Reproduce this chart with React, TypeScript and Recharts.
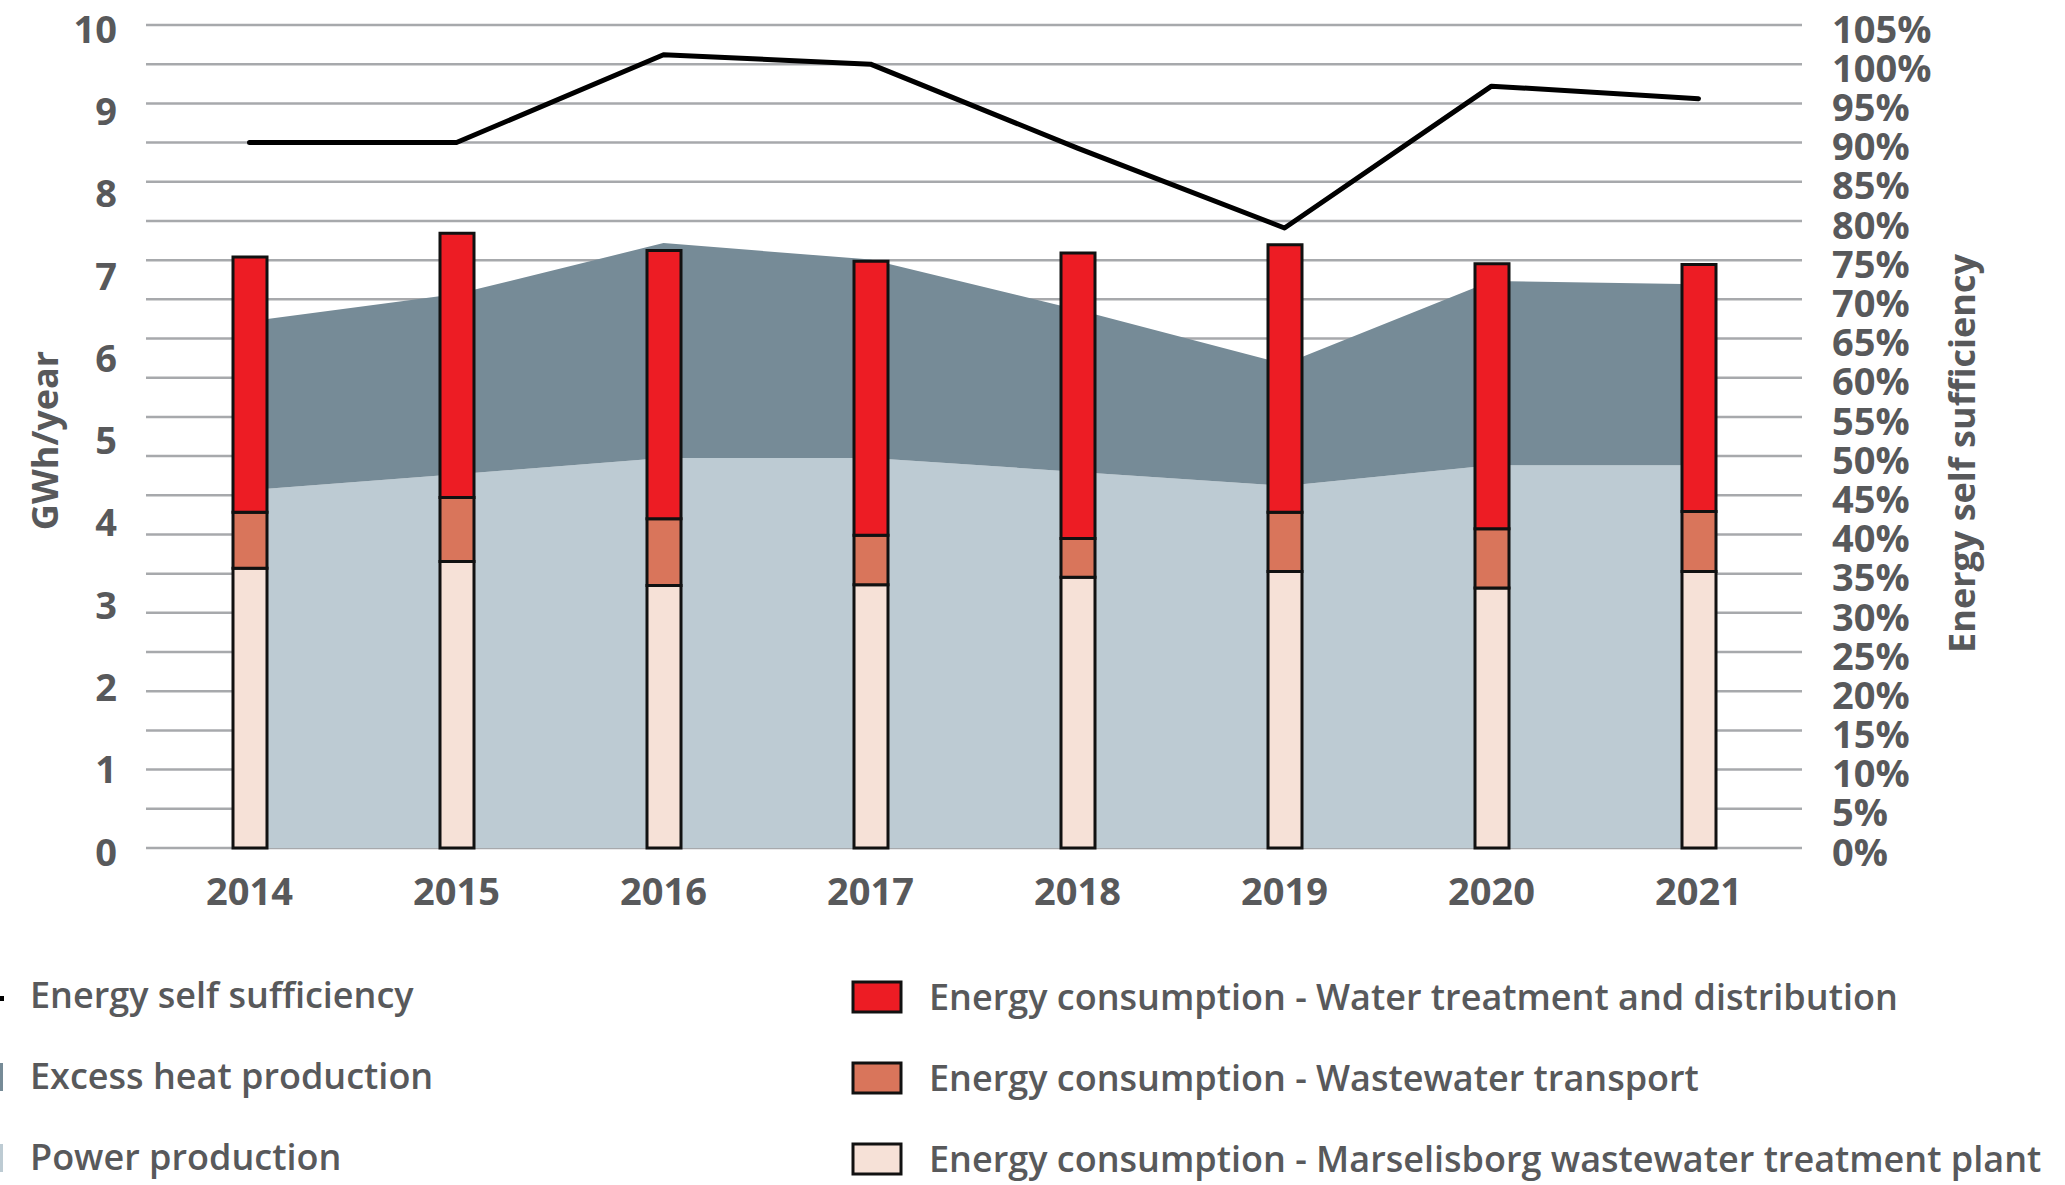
import { ComposedChart, Bar, Area, Line, XAxis, YAxis, CartesianGrid, Legend } from 'recharts'

const years = ['2014', '2015', '2016', '2017', '2018', '2019', '2020', '2021']
// GWh/year, left axis
const marselisborg = [3.4, 3.48, 3.19, 3.2, 3.29, 3.36, 3.16, 3.36]
const wastewaterTransport = [0.68, 0.78, 0.81, 0.6, 0.47, 0.72, 0.72, 0.73]
const waterTreatment = [3.1, 3.21, 3.26, 3.33, 3.47, 3.25, 3.22, 3.0]
const powerProduction = [4.35, 4.54, 4.74, 4.74, 4.57, 4.4, 4.65, 4.65]
const excessHeat = [2.05, 2.19, 2.61, 2.41, 1.97, 1.48, 2.24, 2.2]
// % , right axis
const selfSufficiency = [90, 90, 101.2, 100, 89.3, 79.1, 97.2, 95.6]

const leftTicks = [0, 1, 2, 3, 4, 5, 6, 7, 8, 9, 10]
const rightTicks = [0, 5, 10, 15, 20, 25, 30, 35, 40, 45, 50, 55, 60, 65, 70, 75, 80, 85, 90, 95, 100, 105]

const data = years.map((year, i) => ({
  year,
  marselisborg: marselisborg[i],
  transport: wastewaterTransport[i],
  water: waterTreatment[i],
  power: powerProduction[i],
  heat: excessHeat[i],
  self: selfSufficiency[i],
}))

const TEXT = '#58595b'
const FONT = '"Open Sans", sans-serif'

const leftLegend = [
  { name: 'Energy self sufficiency', color: '#000000', kind: 'line' },
  { name: 'Excess heat production', color: '#768b97', kind: 'bar' },
  { name: 'Power production', color: '#bdcbd3', kind: 'bar' },
]
const rightLegend = [
  { name: 'Energy consumption - Water treatment and distribution', color: '#ed1c24' },
  { name: 'Energy consumption - Wastewater transport', color: '#d9755b' },
  { name: 'Energy consumption - Marselisborg wastewater treatment plant', color: '#f6e1d7' },
]

function Tick({ x, y, payload, textAnchor, suffix }: any) {
  return (
    <text x={x} y={y + 4} dy="0.36em" textAnchor={textAnchor} fill={TEXT}
      fontFamily={FONT} fontWeight={700} fontSize={38}>
      {payload.value}{suffix}
    </text>
  )
}

function AxisTitle({ viewBox, value, cx, shift }: any) {
  const cy = viewBox.y + viewBox.height / 2 + shift
  return (
    <text x={cx} y={cy} transform={`rotate(-90 ${cx} ${cy})`} textAnchor="middle" dy="0.36em"
      fill={TEXT} fontFamily={FONT} fontWeight={700} fontSize={36}>
      {value}
    </text>
  )
}

function LegendBlock() {
  return (
    <svg width={2065} height={245} style={{ display: 'block' }}>
      {leftLegend.map((d, i) => (
        <g key={d.name}>
          {d.kind === 'line'
            ? <rect x={0} y={56 + i * 81} width={4} height={5} fill={d.color} />
            : <rect x={0} y={42 + i * 81} width={3} height={28} fill={d.color} />}
          <text x={30} y={68 + i * 81} fill={TEXT} fontFamily={FONT} fontWeight={600} fontSize={36}>{d.name}</text>
        </g>
      ))}
      {rightLegend.map((d, i) => (
        <g key={d.name}>
          <rect x={853} y={42 + i * 81} width={48} height={30} fill={d.color} stroke="#111" strokeWidth={3} />
          <text x={929} y={70 + i * 81} fill={TEXT} fontFamily={FONT} fontWeight={600} fontSize={36}>{d.name}</text>
        </g>
      ))}
    </svg>
  )
}

export default function App() {
  return (
    <div style={{ position: 'absolute', left: 0, top: 0, width: 2065, height: 1185, background: '#fff' }}>
      <ComposedChart width={2065} height={1185} data={data} margin={{ top: 25, right: 0, bottom: 277, left: 0 }}>
        <CartesianGrid yAxisId="right" vertical={false} stroke="#a7a9ac" strokeWidth={2.5} />
        <XAxis dataKey="year" axisLine={false} tickLine={false} tickSize={0} tickMargin={30} height={60}
          tick={{ fill: TEXT, fontFamily: FONT, fontWeight: 700, fontSize: 38 }} interval={0} />
        <YAxis yAxisId="left" orientation="left" domain={[0, 10]} ticks={leftTicks} width={146}
          axisLine={false} tickLine={false} tickSize={0} tickMargin={29} interval={0}
          tick={<Tick suffix="" />}
          label={<AxisTitle value="GWh/year" cx={45} shift={4} />} />
        <YAxis yAxisId="right" orientation="right" domain={[0, 105]} ticks={rightTicks} width={263}
          axisLine={false} tickLine={false} tickSize={0} tickMargin={30} interval={0}
          tick={<Tick suffix="%" />}
          label={<AxisTitle value="Energy self sufficiency" cx={1962} shift={17} />} />
        <Area yAxisId="left" type="linear" dataKey="power" stackId="a" fill="#bdcbd3" fillOpacity={1}
          stroke="none" isAnimationActive={false} />
        <Area yAxisId="left" type="linear" dataKey="heat" stackId="a" fill="#768b97" fillOpacity={1}
          stroke="none" isAnimationActive={false} />
        <Bar yAxisId="left" dataKey="marselisborg" stackId="b" barSize={34} fill="#f6e1d7"
          stroke="#111" strokeWidth={3} isAnimationActive={false} />
        <Bar yAxisId="left" dataKey="transport" stackId="b" barSize={34} fill="#d9755b"
          stroke="#111" strokeWidth={3} isAnimationActive={false} />
        <Bar yAxisId="left" dataKey="water" stackId="b" barSize={34} fill="#ed1c24"
          stroke="#111" strokeWidth={3} isAnimationActive={false} />
        <Line yAxisId="right" type="linear" dataKey="self" stroke="#000" strokeWidth={5} dot={false}
          strokeLinecap="round" strokeLinejoin="round" activeDot={false} isAnimationActive={false} />
        <Legend layout="vertical" align="center" verticalAlign="middle"
          wrapperStyle={{ left: 0, top: 940, width: 2065, height: 245 }}
          content={() => <LegendBlock />} />
      </ComposedChart>
    </div>
  )
}
